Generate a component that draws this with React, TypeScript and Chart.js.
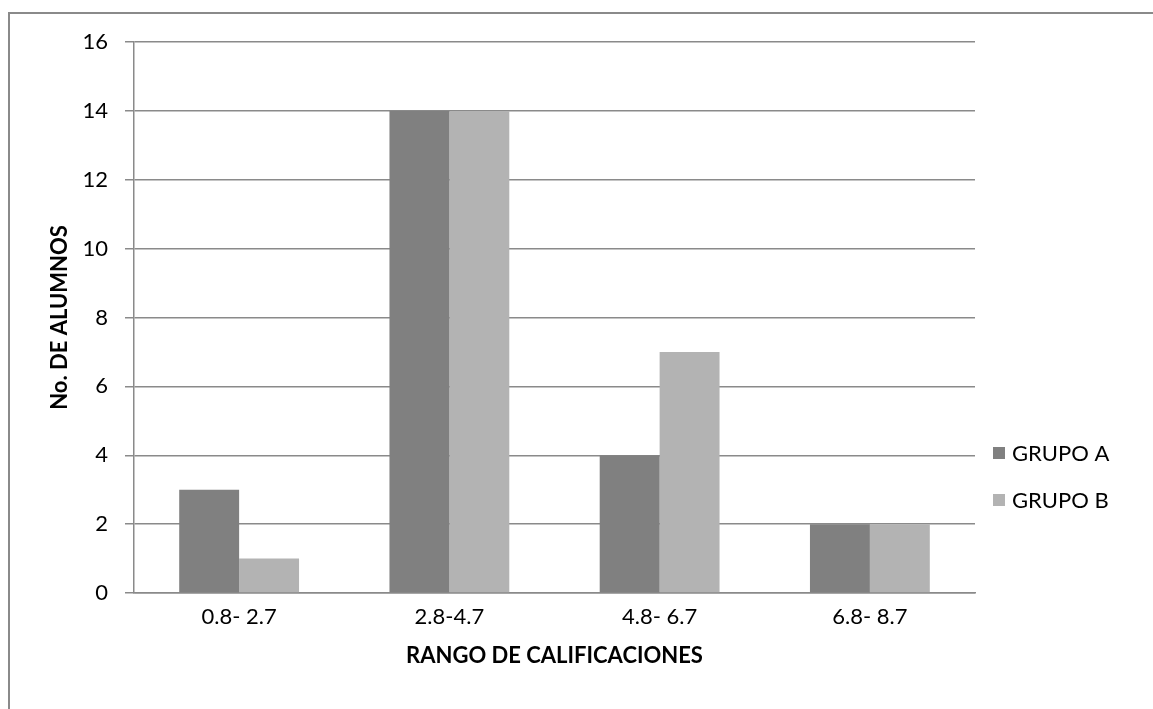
import React, { useEffect, useRef } from "react";
import { Chart, registerables } from "chart.js";

Chart.register(...registerables);

const categories = ["0.8- 2.7", "2.8-4.7", "4.8- 6.7", "6.8- 8.7"];
const grupoA = [3, 14, 4, 2];
const grupoB = [1, 14, 7, 2];
const seriesNames = ["GRUPO A", "GRUPO B"];
const yTitle = "No. DE ALUMNOS";
const xTitle = "RANGO DE CALIFICACIONES";

const FONT = "Lato, 'Open Sans', sans-serif";
const FS = 22;
const GRID = "#8a8a8a";

const legendPlugin = {
  id: "sideLegend",
  afterDraw(chart: any) {
    const { ctx, chartArea } = chart;
    ctx.save();
    ctx.font = `${FS}px ${FONT}`;
    ctx.textBaseline = "middle";
    ctx.textAlign = "left";
    chart.data.datasets.forEach((ds: any, i: number) => {
      const x = chartArea.right + 18;
      const y = 439 + i * 47;
      ctx.fillStyle = ds.backgroundColor;
      ctx.fillRect(x, y - 6, 12, 12);
      ctx.fillStyle = "#000";
      ctx.fillText(ds.label, x + 19, y + 1);
    });
    ctx.restore();
  },
};

export default function App() {
  const ref = useRef<HTMLCanvasElement>(null);
  useEffect(() => {
    if (!ref.current) return;
    const chart = new Chart(ref.current, {
      type: "bar",
      data: {
        labels: categories,
        datasets: [
          { label: seriesNames[0], data: grupoA, backgroundColor: "#808080" },
          { label: seriesNames[1], data: grupoB, backgroundColor: "#b3b3b3" },
        ],
      },
      options: {
        animation: false,
        responsive: false,
        maintainAspectRatio: false,
        layout: { padding: { top: 28, right: 178, bottom: 0, left: 0 } },
        datasets: { bar: { categoryPercentage: 0.57, barPercentage: 1 } },
        plugins: { legend: { display: false }, tooltip: { enabled: false } },
        scales: {
          x: {
            grid: { display: false, drawTicks: false },
            border: { display: true, color: GRID, width: 1.5 },
            ticks: { color: "#000", font: { family: FONT, size: FS }, padding: 11, maxRotation: 0 },
            title: {
              display: true,
              text: xTitle,
              color: "#000",
              font: { family: FONT, size: FS, weight: "bold" },
              padding: { top: 0, bottom: 40 },
            },
            afterFit(scale: any) {
              scale.height = 116;
              scale.paddingLeft = 0;
              scale.paddingRight = 0;
            },
          },
          y: {
            min: 0,
            max: 16,
            ticks: { stepSize: 2, color: "#000", font: { family: FONT, size: FS }, padding: 17 },
            grid: { color: GRID, lineWidth: 1.5, tickLength: 9, tickColor: GRID },
            border: { display: true, color: GRID, width: 1.5 },
            title: {
              display: true,
              text: yTitle,
              color: "#000",
              font: { family: FONT, size: FS, weight: "bold" },
              padding: { top: 37, bottom: 0 },
            },
            afterFit(scale: any) {
              scale.width = 124;
              scale.paddingTop = 0;
              scale.paddingBottom = 0;
            },
          },
        },
      },
      plugins: [legendPlugin],
    });
    return () => chart.destroy();
  }, []);
  return (
    <div
      style={{
        position: "absolute",
        left: 8,
        top: 12,
        width: 1145,
        height: 697,
        borderLeft: "2px solid #8a8a8a",
        borderTop: "2px solid #8a8a8a",
        boxSizing: "border-box",
        background: "#fff",
      }}
    >
      <canvas ref={ref} width={1143} height={695} style={{ display: "block" }} />
    </div>
  );
}
